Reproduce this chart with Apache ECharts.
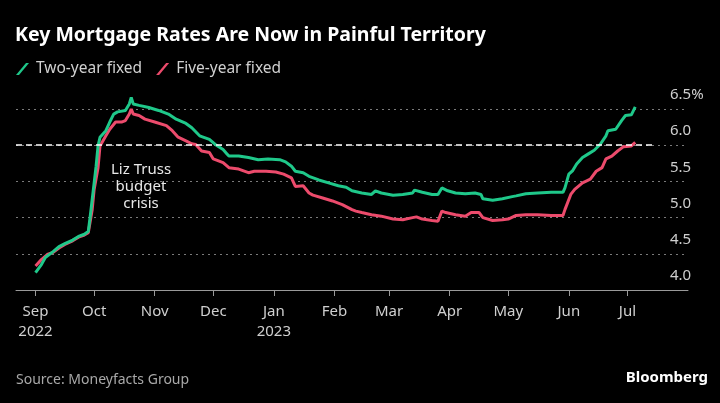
<!DOCTYPE html>
<html>
<head>
<meta charset="utf-8">
<script src="https://cdn.jsdelivr.net/npm/echarts@6/dist/echarts.min.js"></script>
<style>
  html, body { margin: 0; padding: 0; background: #000; }
  #chart { width: 720px; height: 403px; }
</style>
</head>
<body>
<div id="chart"></div>
<script>
// ---- Data ----
const axisStart = '2022-08-22';
const axisEnd = '2023-08-01';
const dashedLineEnd = '2023-07-14';
const thresholdRate = 6.0;

const tickDates = ['2022-09-01','2022-10-01','2022-11-01','2022-12-01','2023-01-01','2023-02-01','2023-03-01','2023-04-01','2023-05-01','2023-06-01','2023-07-01'];
const tickLabels = ['Sep\n2022','Oct','Nov','Dec','Jan\n2023','Feb','Mar','Apr','May','Jun','Jul'];

const twoYearDates = ['2022-09-01','2022-09-04','2022-09-06','2022-09-10','2022-09-13','2022-09-16','2022-09-20','2022-09-23','2022-09-26','2022-09-28','2022-09-29','2022-09-30','2022-10-01','2022-10-02','2022-10-03','2022-10-04','2022-10-07','2022-10-09','2022-10-11','2022-10-13','2022-10-17','2022-10-19','2022-10-20','2022-10-21','2022-10-24','2022-10-29','2022-11-03','2022-11-08','2022-11-12','2022-11-17','2022-11-20','2022-11-24','2022-11-29','2022-12-02','2022-12-06','2022-12-08','2022-12-09','2022-12-14','2022-12-19','2022-12-24','2022-12-29','2023-01-04','2023-01-07','2023-01-10','2023-01-12','2023-01-16','2023-01-19','2023-01-24','2023-01-29','2023-02-03','2023-02-07','2023-02-10','2023-02-15','2023-02-20','2023-02-22','2023-02-25','2023-03-03','2023-03-08','2023-03-13','2023-03-14','2023-03-18','2023-03-23','2023-03-26','2023-03-28','2023-03-31','2023-04-04','2023-04-09','2023-04-14','2023-04-17','2023-04-18','2023-04-23','2023-04-28','2023-05-03','2023-05-05','2023-05-10','2023-05-16','2023-05-23','2023-05-29','2023-05-30','2023-06-01','2023-06-03','2023-06-05','2023-06-08','2023-06-11','2023-06-14','2023-06-17','2023-06-20','2023-06-21','2023-06-25','2023-06-28','2023-06-30','2023-07-03','2023-07-05'];
const twoYearValues = [4.24,4.35,4.45,4.53,4.60,4.64,4.69,4.74,4.77,4.81,5.02,5.25,5.48,5.71,5.99,6.11,6.20,6.32,6.43,6.46,6.48,6.57,6.66,6.57,6.55,6.52,6.48,6.43,6.36,6.30,6.24,6.13,6.08,6.01,5.94,5.88,5.85,5.85,5.83,5.80,5.81,5.80,5.77,5.71,5.64,5.62,5.57,5.52,5.48,5.44,5.42,5.37,5.34,5.32,5.37,5.34,5.31,5.32,5.34,5.38,5.35,5.32,5.32,5.41,5.37,5.34,5.33,5.34,5.32,5.26,5.24,5.26,5.29,5.30,5.33,5.34,5.35,5.35,5.41,5.60,5.65,5.74,5.83,5.88,5.93,6.01,6.13,6.20,6.22,6.34,6.41,6.42,6.53];

const fiveYearDates = ['2022-09-01','2022-09-04','2022-09-07','2022-09-10','2022-09-13','2022-09-16','2022-09-20','2022-09-23','2022-09-26','2022-09-28','2022-09-30','2022-10-01','2022-10-03','2022-10-04','2022-10-07','2022-10-09','2022-10-12','2022-10-15','2022-10-17','2022-10-19','2022-10-20','2022-10-21','2022-10-24','2022-10-27','2022-11-01','2022-11-07','2022-11-10','2022-11-13','2022-11-17','2022-11-20','2022-11-22','2022-11-25','2022-11-29','2022-12-01','2022-12-06','2022-12-09','2022-12-14','2022-12-19','2022-12-22','2022-12-28','2023-01-02','2023-01-06','2023-01-10','2023-01-12','2023-01-16','2023-01-19','2023-01-21','2023-01-26','2023-01-31','2023-02-05','2023-02-10','2023-02-12','2023-02-15','2023-02-20','2023-02-25','2023-03-03','2023-03-08','2023-03-13','2023-03-15','2023-03-18','2023-03-23','2023-03-26','2023-03-28','2023-03-30','2023-04-04','2023-04-09','2023-04-12','2023-04-16','2023-04-18','2023-04-23','2023-04-28','2023-05-01','2023-05-05','2023-05-10','2023-05-16','2023-05-23','2023-05-29','2023-05-30','2023-06-02','2023-06-04','2023-06-08','2023-06-12','2023-06-15','2023-06-18','2023-06-20','2023-06-23','2023-06-26','2023-06-29','2023-07-03','2023-07-05'];
const fiveYearValues = [4.33,4.42,4.49,4.52,4.58,4.63,4.68,4.73,4.76,4.79,5.11,5.39,5.69,5.99,6.13,6.22,6.32,6.32,6.34,6.43,6.50,6.43,6.41,6.36,6.32,6.27,6.20,6.11,6.06,6.02,6.01,5.92,5.90,5.81,5.76,5.69,5.67,5.62,5.64,5.64,5.63,5.60,5.55,5.43,5.44,5.34,5.31,5.27,5.23,5.18,5.11,5.09,5.07,5.04,5.02,4.98,4.97,5.00,5.01,4.98,4.96,4.95,5.09,5.07,5.04,5.02,5.07,5.07,5.00,4.96,4.97,4.98,5.03,5.04,5.04,5.03,5.03,5.11,5.32,5.39,5.48,5.53,5.64,5.69,5.81,5.85,5.92,5.98,5.99,6.04];

const annotationDate = '2022-10-25';
const annotationRate = 5.42;

// ---- Build daily categories for the x axis ----
function dailyCategories(start, end) {
  const out = [];
  let t = Date.parse(start + 'T00:00:00Z');
  const e = Date.parse(end + 'T00:00:00Z');
  while (t <= e) {
    out.push(new Date(t).toISOString().slice(0, 10));
    t += 86400000;
  }
  return out;
}
const categories = dailyCategories(axisStart, axisEnd);
const zip = (a, b) => a.map((d, i) => [d, b[i]]);
const isTick = (idx, val) => tickDates.indexOf(val) >= 0;

const FONT = 'Noto Sans';
const GREEN = '#1fc88a';
const RED = '#ec4b6c';

const chart = echarts.init(document.getElementById('chart'), null, { renderer: 'canvas' });
chart.setOption({
  animation: false,
  backgroundColor: '#000000',
  textStyle: { fontFamily: FONT },
  title: {
    text: 'Key Mortgage Rates Are Now in Painful Territory',
    left: 15, top: 25, padding: 0,
    textStyle: { color: '#ffffff', fontSize: 19.5, fontWeight: 'bold', fontFamily: FONT }
  },
  legend: {
    left: 16, top: 61, padding: 0,
    itemGap: 14, itemWidth: 13, itemHeight: 13,
    icon: 'path://M0,12 L3,12 L13,0 L10,0 Z',
    textStyle: { color: '#d0d0d0', fontSize: 15.5, fontFamily: FONT, padding: [0, 0, 0, 2] },
    data: ['Two-year fixed', 'Five-year fixed']
  },
  graphic: [
    { type: 'text', left: 16, top: 373, style: { text: 'Source: Moneyfacts Group', fill: '#a8a8a8', font: '14px "Noto Sans"' } },
    { type: 'text', right: 12, top: 370, style: { text: 'Bloomberg', fill: '#ffffff', font: 'bold 15px "Noto Sans"' } }
  ],
  grid: { left: 16, right: 32, top: 109, bottom: 113, containLabel: false },
  xAxis: {
    type: 'category',
    data: categories,
    boundaryGap: false,
    axisLine: { show: true, lineStyle: { color: '#9a9a9a', width: 1 } },
    axisTick: { show: true, interval: isTick, length: 6, lineStyle: { color: '#9a9a9a' } },
    axisLabel: {
      interval: isTick,
      margin: 12,
      color: '#cfcfcf', fontSize: 15, lineHeight: 20, fontFamily: FONT,
      formatter: v => { const i = tickDates.indexOf(v); return i >= 0 ? tickLabels[i] : ''; }
    },
    splitLine: { show: false }
  },
  yAxis: {
    type: 'value',
    position: 'right',
    min: 4.0, max: 6.5, interval: 0.5,
    axisLine: { show: false },
    axisTick: { show: false },
    axisLabel: {
      margin: -18, align: 'left', verticalAlign: 'bottom',
      color: '#cfcfcf', fontSize: 15, lineHeight: 16, padding: [0, 0, 6, 0], fontFamily: FONT,
      formatter: v => v === 6.5 ? '6.5%' : v.toFixed(1)
    },
    splitLine: { show: true, lineStyle: { color: '#7a7a7a', type: [2, 4], width: 1 } }
  },
  series: [
    {
      name: 'Two-year fixed', type: 'line', data: zip(twoYearDates, twoYearValues),
      showSymbol: false, symbol: 'none', clip: false, z: 4, smooth: false,
      lineStyle: { color: GREEN, width: 3 }, itemStyle: { color: GREEN },
      markPoint: {
        symbol: 'circle', symbolSize: 0, silent: true,
        data: [{ coord: [annotationDate, annotationRate] }],
        label: {
          show: true, position: 'inside', formatter: 'Liz Truss\nbudget\ncrisis',
          color: '#e8e8e8', fontSize: 15, lineHeight: 17, align: 'center', fontFamily: FONT
        }
      }
    },
    {
      name: 'Five-year fixed', type: 'line', data: zip(fiveYearDates, fiveYearValues),
      showSymbol: false, symbol: 'none', clip: false, z: 3, smooth: false,
      lineStyle: { color: RED, width: 3 }, itemStyle: { color: RED },
      markLine: {
        silent: true, symbol: 'none', label: { show: false },
        lineStyle: { color: '#ffffff', type: [6, 4], width: 1.5 },
        data: [[{ coord: [axisStart, thresholdRate] }, { coord: [dashedLineEnd, thresholdRate] }]]
      }
    }
  ]
});
</script>
</body>
</html>
